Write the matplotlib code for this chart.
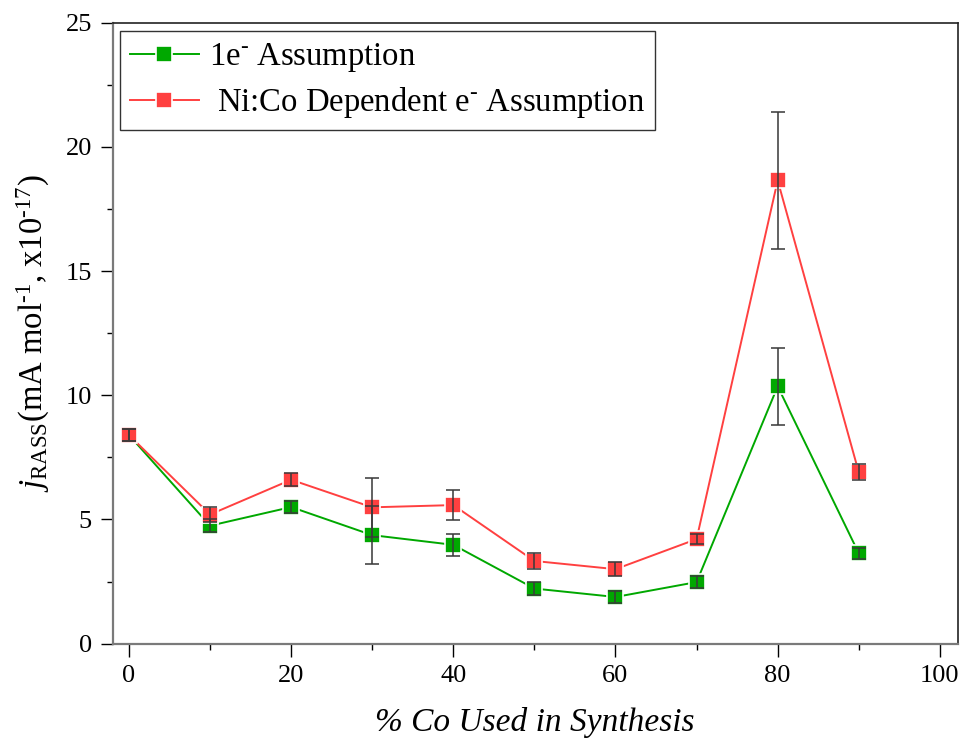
import numpy as np
import matplotlib
matplotlib.use("Agg")
import matplotlib.pyplot as plt

# current density vs cobalt fraction, two electron-count assumptions
co_pct = [0, 10, 20, 30, 40, 50, 60, 70, 80, 90]

j_one_e = [8.4, 4.75, 5.5, 4.37, 3.98, 2.22, 1.88, 2.48, 10.36, 3.64]
err_one_e = [0.24, 0.26, 0.24, 1.17, 0.43, 0.25, 0.24, 0.23, 1.54, 0.23]

j_nico = [8.4, 5.2, 6.6, 5.49, 5.58, 3.33, 3.0, 4.21, 18.65, 6.9]
err_nico = [0.24, 0.3, 0.27, 1.2, 0.62, 0.33, 0.27, 0.19, 2.75, 0.33]

green = "#00A800"
red = "#FF4040"

plt.rcParams['font.family'] = ['Liberation Serif', 'DejaVu Serif']
plt.rcParams['mathtext.fontset'] = 'custom'
plt.rcParams['mathtext.rm'] = 'Liberation Serif'
plt.rcParams['mathtext.it'] = 'Liberation Serif:italic'

fig = plt.figure(figsize=(9.66, 7.47), dpi=100)
ax = fig.add_axes([0.1167, 0.1383, 0.8747, 0.8313])

ax.plot(co_pct, j_one_e, color=green, lw=1.4, marker='s', ms=11,
        mfc=green, mec='white', mew=1.2, zorder=3,
        label='1e$^{\\text{-}}$ Assumption')
ax.plot(co_pct, j_nico, color=red, lw=1.4, marker='s', ms=11,
        mfc=red, mec='white', mew=1.2, zorder=3,
        label=' Ni:Co Dependent e$^{\\text{-}}$ Assumption')

# error bars sit on top of the markers
for y, e in [(j_one_e, err_one_e), (j_nico, err_nico)]:
    ax.errorbar(co_pct, y, yerr=e, fmt='none', ecolor='#3a3a3a',
                elinewidth=1.4, capsize=5, capthick=1.4, alpha=0.8, zorder=4)

ax.set_xlim(-2, 102.2)
ax.set_ylim(0, 25)
ax.set_xticks(np.arange(0, 101, 20))
ax.set_xticks(np.arange(10, 100, 20), minor=True)
ax.set_yticks(np.arange(0, 26, 5))
ax.set_yticks(np.arange(2.5, 25, 5), minor=True)

ax.tick_params(which='major', direction='out', length=9, width=1.0,
               labelsize=19, color='black', pad=6)
ax.tick_params(which='minor', direction='out', length=4.5, width=1.0,
               color='black')
ax.tick_params(top=False, right=False)

for side in ['left', 'bottom']:
    ax.spines[side].set_color('#7a7a7a')
    ax.spines[side].set_linewidth(1.6)
for side in ['top', 'right']:
    ax.spines[side].set_color('#222222')
    ax.spines[side].set_linewidth(1.2)

ax.set_xlabel('% Co Used in Synthesis', fontsize=24, style='italic',
              labelpad=15)
ax.set_ylabel('$j_{\\mathrm{RASS}}$(mA mol$^{\\text{-1}}$, x10$^{\\text{-17}}$)',
              fontsize=23.5, labelpad=10)

leg = ax.legend(loc='upper left', bbox_to_anchor=(0.0088, 0.986), fontsize=23.5,
                frameon=True, fancybox=False, handlelength=2.1,
                handletextpad=0.32, borderpad=0.3, labelspacing=0.33,
                borderaxespad=0.0)
leg.get_frame().set_edgecolor('black')
leg.get_frame().set_linewidth(1.0)

fig.savefig('out.png', dpi=100)
